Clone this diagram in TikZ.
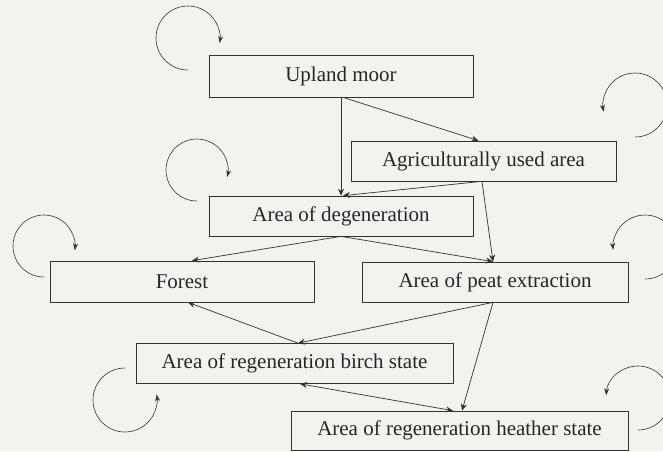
\documentclass[tikz,border=0pt]{standalone}
\usepackage{fontspec}
\setmainfont{Liberation Serif}
\usetikzlibrary{arrows.meta}
\definecolor{paper}{RGB}{243,242,239}
\definecolor{ink}{RGB}{50,50,50}
\begin{document}
\begin{tikzpicture}[x=1pt,y=-1pt,
  state/.style={draw=ink, line width=0.7pt, rectangle, inner sep=0pt,
    minimum height=40pt, font=\fontsize{21}{24}\selectfont, text=black!85},
  flow/.style={draw=ink, line width=0.7pt, -{Stealth[length=7pt,width=6pt]}},
  both/.style={draw=ink, line width=0.7pt, {Stealth[length=7pt,width=6pt]}-{Stealth[length=7pt,width=6pt]}},
  loop/.style={draw=ink, line width=0.6pt, -{Stealth[length=7pt,width=5pt]}}]
\fill[paper] (0,0) rectangle (663,451);
\useasboundingbox (0,0) rectangle (663,451);

% states
\node[state, minimum width=264pt, minimum height=42pt] (up) at (341,76) {Upland moor};
\node[state, minimum width=265pt] (agri) at (483.5,161) {Agriculturally used area};
\node[state, minimum width=264pt] (deg) at (341,216) {Area of degeneration};
\node[state, minimum width=264pt, minimum height=41pt] (forest) at (182,281.5) {Forest};
\node[state, minimum width=266pt] (peat) at (495,282) {Area of peat extraction};
\node[state, minimum width=317pt] (birch) at (294.5,363.5) {Area of regeneration birch state};
\node[state, minimum width=337pt, minimum height=39pt] (heather) at (459.5,430.5) {Area of regeneration heather state};

% transitions between states
\draw[flow] (up.south) -- (deg.north);
\draw[flow] ([xshift=2pt]up.south) -- ([xshift=-5pt]agri.north);
\draw[flow] ([xshift=-1.5pt]agri.south) -- ([xshift=2pt]deg.north);
\draw[flow] ([xshift=-1.5pt]agri.south) -- ([xshift=-2pt]peat.north);
\draw[flow] (deg.south) -- ([xshift=-2pt]peat.north);
\draw[flow] (deg.south) -- ([xshift=10pt]forest.north);
\draw[flow] ([xshift=-2pt]peat.south) -- ([xshift=3.5pt]birch.north);
\draw[flow] ([xshift=3.5pt]birch.north) -- ([xshift=6pt]forest.south);
\draw[flow] ([xshift=-2pt]peat.south) -- ([xshift=2.5pt]heather.north);
\draw[both] ([xshift=5.5pt]birch.south) -- ([xshift=-6.5pt]heather.north);

% self-transitions (persistence of each state)
\draw[loop] (188,38) ++(90:32) arc[start angle=90, end angle=369, radius=32];
\draw[loop] (635,105) ++(90:32) arc[start angle=90, end angle=-192, radius=32];
\draw[loop] (197,170) ++(90:31) arc[start angle=90, end angle=373, radius=31];
\draw[loop] (44,246) ++(90:31) arc[start angle=90, end angle=368, radius=31];
\draw[loop] (645,247) ++(90:32) arc[start angle=90, end angle=-185, radius=32];
\draw[loop] (125,400) ++(-90:32) arc[start angle=-90, end angle=-370, radius=32];
\draw[loop] (638,398) ++(90:32) arc[start angle=90, end angle=-175, radius=32];
\end{tikzpicture}
\end{document}
